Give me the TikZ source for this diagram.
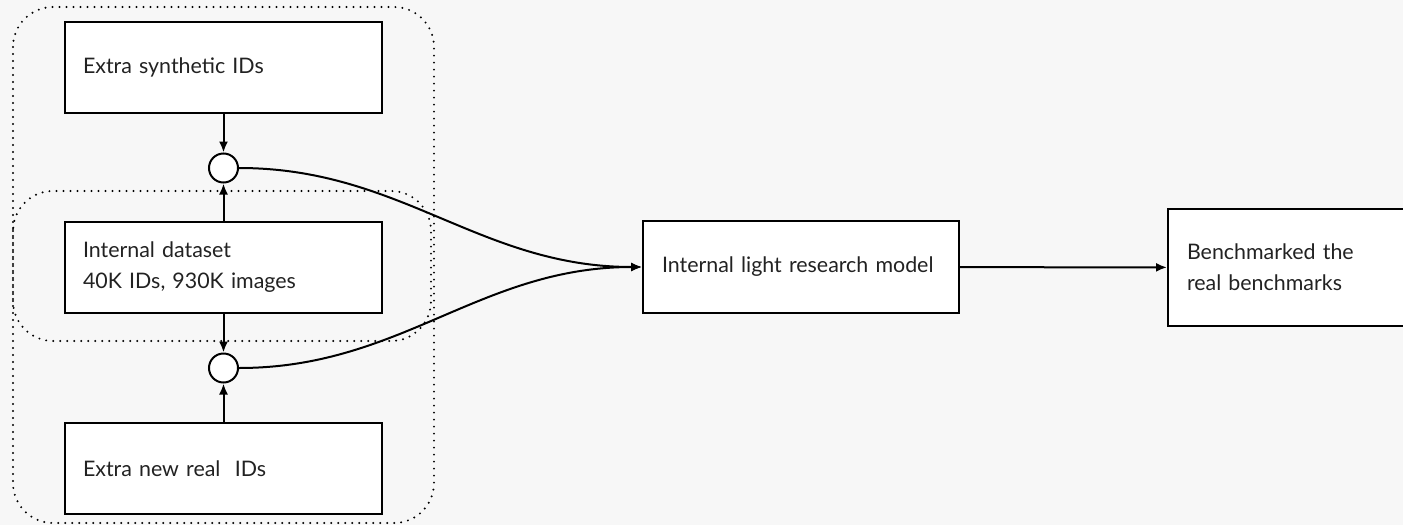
\documentclass[tikz,border=0pt]{standalone}
\usepackage{fontspec}
\setmainfont{Lato}
\usetikzlibrary{positioning,arrows.meta}
\definecolor{pagegray}{HTML}{F7F7F7}
\definecolor{textgray}{HTML}{222222}

\begin{document}
\begin{tikzpicture}[x=1pt,y=-1pt,
  >={Latex[length=11pt,width=9pt]},
  box/.style={draw,line width=2pt,fill=white,minimum height=91pt,
    text width=281pt,inner xsep=18pt,align=left,text=textgray,
    font=\fontsize{21.4}{31}\selectfont},
  mergept/.style={draw,circle,line width=2pt,fill=white,minimum size=29pt,inner sep=0pt},
  group/.style={line width=2.2pt,dash pattern=on 0pt off 7pt,line cap=round,rounded corners=40pt},
  link/.style={line width=2pt,->}]
\useasboundingbox (0,0) rectangle (1403,525);
\fill[pagegray] (0,0) rectangle (1403,525);
% dotted groups
\draw[group] (13,7) rectangle (434,523);
\draw[group] (13,191) rectangle (431,341);
% data sources
\node[box] (synth) at (223.5,67.5) {Extra synthetic IDs};
\node[box] (internal) at (223.5,267.5) {Internal dataset\\40K IDs, 930K images};
\node[box] (newreal) at (223.5,468.5) {Extra new real~ IDs};
\node[mergept] (merge1) at (223.5,168) {};
\node[mergept] (merge2) at (223.5,368) {};
% model and benchmark
\node[box,text width=278pt,inner xsep=19pt,minimum height=92pt] (model) at (801,267) {Internal light research model};
\node[box,text width=217pt,inner xsep=19pt,minimum height=117pt] (bench) at (1295.5,267.5) {Benchmarked the\\real benchmarks};
\draw[link] (synth) -- (merge1);
\draw[link] (internal) -- (merge1);
\draw[link] (internal) -- (merge2);
\draw[link] (newreal) -- (merge2);
\draw[link] (merge1.east) to[out=0,in=180] (model.west);
\draw[link] (merge2.east) to[out=0,in=180] (model.west);
\draw[link] (model) -- (bench);
\end{tikzpicture}
\end{document}
